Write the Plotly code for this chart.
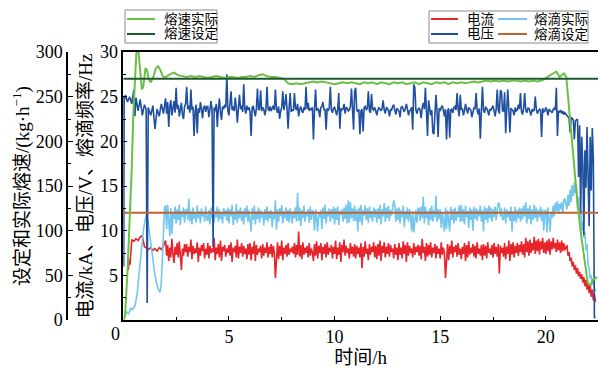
import numpy as np
import plotly.graph_objects as go

# ---------------- data ----------------
# 熔速实际 (kg/h), outer axis
melt_t_start = [0.0, 0.08, 0.2, 0.32, 0.4, 0.47, 0.55, 0.62, 0.72, 0.8, 0.88, 0.95, 1.05, 1.12,
                1.2, 1.3, 1.42, 1.55, 1.65, 1.75, 1.85, 1.95, 2.05]
melt_v_start = [0, 4, 55, 115, 170, 228, 275, 300, 300, 282, 258, 262, 282, 280,
                270, 266, 272, 282, 284, 280, 274, 271, 273]
# t = 2.2 ... 19.8 (step 0.2)
melt_v_mid = [275, 277, 274, 273, 272, 273, 272, 273, 272, 271,
              272, 273, 272, 271, 272, 272, 271, 272, 272, 273,
              272, 274, 275, 273, 272, 272, 271, 270, 265, 264,
              265, 264, 265, 266, 267, 266, 267, 266, 265, 264,
              265, 266, 265, 266, 265, 264, 266, 265, 266, 264,
              266, 265, 264, 266, 265, 266, 264, 265, 266, 264,
              266, 265, 264, 266, 265, 266, 264, 266, 265, 266,
              265, 266, 267, 266, 267, 268, 267, 268, 267, 268,
              267, 268, 268, 267, 268, 267, 268, 267, 268]
melt_t_end = [19.9, 20.2, 20.5, 20.65, 20.86, 20.97, 21.13, 21.36, 21.5, 21.68, 21.85, 21.99,
              22.12, 22.23, 22.43]
melt_v_end = [269, 274, 278, 272, 276, 272, 228, 164, 130, 93, 62, 41, 39, 45, 48]

# 熔速设定
melt_set_t = [0.0, 22.47]
melt_set_v = [270, 270]

# 电压 (V)
volt_t_start = [0.0, 0.02, 0.04, 0.1, 0.2, 0.3, 0.4, 0.5, 0.55, 0.6, 0.7, 0.8, 0.9, 1.0, 1.08,
                1.13, 1.18, 1.3, 1.4, 1.5, 1.6, 1.7, 1.8, 1.9]
volt_v_start = [25.0, 6.0, 24.6, 25.2, 24.4, 25.0, 24.2, 25.8, 22.8, 24.9, 23.4, 24.7, 22.9, 24.1,
                23.6, 1.9, 23.8, 22.9, 24.0, 21.4, 23.6, 22.8, 24.2, 23.1]
# t = 2.00 ... 20.80 (step 0.05), one row per hour
volt_v_mid = [
    24.8, 23.1, 24.4, 21.6, 23.9, 24.6, 22.9, 23.8, 24.5, 23.2, 26.0, 23.6, 24.1, 22.8, 23.7, 24.3, 23.0, 22.5, 23.9, 24.2,
    26.1, 23.6, 24.0, 23.2, 25.8, 23.5, 23.9, 20.6, 23.4, 24.1, 20.9, 23.7, 23.2, 24.4, 23.6, 22.6, 23.8, 24.0, 23.3, 23.9,
    23.9, 22.7, 23.5, 24.5, 23.6, 8.2, 23.8, 23.4, 24.2, 21.6, 23.7, 24.8, 23.2, 22.4, 23.9, 23.6, 24.1, 23.8, 27.5, 23.4,
    22.9, 24.0, 25.6, 23.5, 23.9, 23.4, 24.9, 23.7, 22.1, 23.8, 25.2, 23.6, 24.0, 23.3, 26.4, 23.7, 23.1, 24.0, 23.5, 23.8,
    23.3, 20.6, 23.8, 23.9, 23.4, 22.8, 23.7, 25.9, 23.5, 23.6, 25.7, 23.4, 23.8, 23.6, 22.9, 23.5, 26.1, 23.7, 23.4, 23.9,
    23.4, 23.8, 24.0, 23.5, 25.8, 23.6, 23.2, 23.9, 22.5, 23.4, 23.8, 25.6, 23.5, 24.2, 25.3, 23.6, 21.4, 23.8, 25.4, 23.3,
    23.6, 23.4, 25.4, 23.7, 23.5, 24.2, 22.8, 23.6, 23.9, 23.4, 23.2, 23.8, 23.5, 26.1, 23.6, 24.3, 23.4, 23.7, 23.5, 23.8,
    20.2, 23.6, 25.8, 23.4, 23.7, 23.5, 22.7, 23.8, 23.9, 24.4, 23.5, 23.6, 21.3, 23.7, 23.4, 23.8, 26.1, 23.5, 23.2, 23.7,
    23.8, 23.4, 22.9, 23.6, 25.4, 21.4, 23.7, 23.5, 23.6, 24.2, 23.1, 23.8, 23.7, 23.4, 23.5, 23.9, 25.9, 23.6, 21.3, 25.6,
    26.0, 23.5, 23.3, 23.6, 20.8, 23.4, 23.6, 21.1, 23.8, 23.9, 23.5, 23.7, 25.6, 23.4, 23.2, 25.3, 23.6, 23.5, 23.8, 23.4,
    22.9, 23.5, 23.8, 23.6, 23.4, 23.7, 24.6, 23.5, 23.1, 23.8, 23.7, 23.4, 22.8, 23.6, 23.5, 23.9, 24.1, 23.5, 23.0, 23.7,
    23.6, 23.4, 22.7, 23.8, 23.9, 23.5, 23.3, 23.7, 24.2, 23.6, 22.9, 23.4, 23.5, 23.8, 21.3, 26.4, 26.0, 23.5, 23.1, 23.6,
    23.7, 23.5, 22.6, 23.8, 24.3, 23.6, 26.0, 23.4, 20.6, 24.6, 23.7, 22.9, 23.5, 21.0, 20.8, 23.6, 25.2, 23.4, 20.5, 23.7,
    23.4, 23.8, 24.0, 23.5, 22.8, 23.6, 20.2, 23.4, 23.7, 20.4, 23.5, 23.6, 23.2, 23.8, 23.9, 23.5, 25.4, 23.6, 22.8, 25.2,
    23.5, 23.7, 22.9, 23.4, 24.2, 23.6, 23.1, 23.8, 23.6, 23.5, 22.7, 23.4, 23.8, 23.6, 25.4, 23.5, 23.0, 23.7, 20.3, 23.4,
    26.1, 23.5, 23.2, 23.8, 23.7, 23.4, 22.9, 23.6, 23.5, 23.7, 24.0, 23.4, 22.8, 23.6, 25.8, 23.5, 23.1, 25.7, 25.6, 23.4,
    23.4, 25.5, 20.9, 23.6, 25.8, 23.5, 21.0, 23.7, 23.6, 23.4, 22.9, 23.8, 23.4, 23.5, 24.1, 23.6, 25.4, 23.3, 23.0, 23.7,
    25.4, 23.5, 23.2, 23.7, 23.7, 23.4, 22.9, 23.6, 23.4, 23.5, 25.0, 23.6, 23.1, 23.4, 23.6, 23.5, 20.5, 23.7, 23.3, 23.4,
    23.8, 23.5, 22.9, 23.6, 23.5, 23.4, 23.2, 23.6, 23.7, 23.5, 26.0, 20.6, 23.4, 23.3, 23.5, 23.1, 23.4]
volt_t_end = [20.85, 20.9, 21.0, 21.1, 21.15, 21.2, 21.3, 21.35, 21.4, 21.5, 21.55, 21.6, 21.65,
              21.7, 21.75, 21.8, 21.85, 21.9, 21.95, 22.0, 22.05, 22.1, 22.15, 22.2, 22.25, 22.3,
              22.35]
volt_v_end = [23.0, 23.2, 22.9, 22.6, 21.0, 22.7, 22.4, 20.2, 22.3, 22.5, 16.0, 21.8, 12.0,
              20.5, 17.5, 9.5, 19.0, 14.8, 21.6, 15.5, 10.5, 20.5, 14.5, 21.5, 18.0, 0.3, 0.2]

# 电流 (kA)
curr_t_start = [0.24, 0.28, 0.32, 0.36, 0.4, 0.5, 0.6, 0.7, 0.8, 0.87, 0.93, 1.0, 1.1, 1.2,
                1.3, 1.4, 1.5, 1.6, 1.7, 1.8, 1.9]
curr_v_start = [5.6, 6.8, 6.2, 8.2, 9.0, 8.8, 9.1, 8.9, 9.3, 9.4, 9.1, 8.2, 8.0, 7.9,
                8.1, 7.8, 8.0, 7.7, 8.1, 7.9, 8.3]
curr_v_mid = [
    8.9, 7.2, 8.4, 6.6, 8.1, 7.0, 9.1, 7.4, 6.4, 8.2, 7.3, 8.6, 7.0, 8.8, 7.5, 5.6, 8.0, 7.2, 8.5, 7.6,
    8.5, 7.1, 8.2, 7.6, 9.0, 6.8, 8.3, 7.4, 8.0, 7.5, 8.7, 6.5, 8.1, 7.2, 8.4, 7.7, 8.6, 6.9, 8.0, 7.3,
    8.6, 6.9, 8.3, 7.5, 8.0, 7.6, 9.2, 6.7, 8.1, 7.4, 8.5, 7.0, 8.9, 6.6, 8.2, 7.7, 8.4, 7.1, 8.0, 7.5,
    8.4, 7.2, 8.7, 6.5, 8.1, 7.6, 8.3, 7.0, 9.0, 6.9, 8.2, 7.5, 8.6, 7.1, 8.3, 7.4, 8.0, 6.8, 8.5, 7.3,
    8.6, 6.7, 8.2, 7.4, 8.8, 6.6, 8.4, 7.3, 8.0, 7.6, 8.3, 6.9, 8.5, 7.2, 8.1, 7.5, 8.7, 7.0, 8.2, 7.4,
    8.5, 7.0, 8.3, 7.5, 4.7, 7.6, 8.7, 6.8, 8.3, 7.2, 8.9, 6.7, 8.1, 7.4, 8.4, 7.1, 8.6, 7.3, 8.0, 7.6,
    8.2, 7.4, 8.6, 7.0, 8.4, 7.3, 9.9, 7.1, 8.4, 6.8, 8.7, 7.3, 8.1, 7.5, 8.3, 7.0, 8.6, 7.2, 8.0, 7.6,
    6.6, 8.5, 7.2, 8.8, 6.9, 8.3, 7.5, 8.6, 6.7, 8.2, 7.4, 8.5, 7.0, 8.7, 7.3, 8.1, 7.6, 8.4, 6.9, 8.2,
    7.4, 8.9, 6.8, 8.1, 7.3, 8.7, 6.5, 8.4, 7.6, 9.0, 7.2, 8.3, 7.5, 8.0, 6.9, 8.6, 7.4, 8.2, 7.1, 8.5,
    6.9, 8.3, 7.4, 8.1, 7.0, 8.6, 5.8, 8.2, 7.1, 8.8, 7.4, 8.0, 6.7, 8.5, 7.3, 8.2, 7.6, 8.7, 7.0, 8.3,
    6.8, 8.5, 7.2, 8.9, 6.6, 8.3, 7.5, 8.7, 7.0, 8.2, 7.4, 8.6, 7.1, 8.4, 7.6, 8.0, 6.9, 8.5, 7.3, 8.1,
    6.7, 8.6, 7.3, 8.1, 6.9, 8.8, 7.4, 8.4, 6.5, 8.7, 7.2, 8.3, 7.5, 8.0, 7.0, 8.6, 7.3, 8.2, 7.6, 8.4,
    7.2, 8.3, 6.8, 9.1, 7.5, 8.2, 6.6, 8.6, 7.1, 8.4, 7.3, 8.7, 7.0, 8.1, 7.5, 8.5, 6.9, 8.3, 7.4, 8.0,
    6.9, 8.7, 7.3, 8.1, 7.5, 4.7, 7.6, 8.5, 6.7, 8.3, 7.4, 8.9, 7.0, 8.2, 7.6, 8.4, 7.1, 8.6, 7.3, 8.0,
    6.8, 8.2, 7.4, 8.6, 6.6, 8.4, 7.0, 8.8, 7.3, 8.1, 7.5, 8.5, 7.1, 8.3, 6.9, 8.7, 7.4, 8.0, 7.2, 8.4,
    6.7, 8.5, 7.2, 8.3, 6.9, 8.7, 7.5, 8.0, 7.3, 8.4, 7.0, 8.6, 7.4, 8.2, 7.1, 8.5, 5.2, 8.3, 7.5, 8.1,
    7.1, 8.6, 6.8, 8.2, 7.4, 8.9, 6.6, 8.5, 7.3, 8.7, 7.0, 8.3, 7.5, 8.6, 7.2, 8.4, 7.6, 8.8, 7.3, 8.5,
    7.0, 9.2, 7.6, 8.8, 7.2, 9.0, 7.5, 8.6, 7.8, 9.3, 7.4, 8.9, 7.7, 9.1, 7.3, 8.8, 7.9, 9.2, 7.5, 8.7,
    7.4, 8.9, 7.7, 9.1, 7.3, 8.8, 7.9, 9.2, 8.0, 8.6, 7.6, 9.0, 7.8, 8.7, 7.5, 8.9, 7.7]
curr_t_end = [20.85, 20.9, 21.0, 21.05, 21.1, 21.15, 21.2, 21.25, 21.3, 21.35, 21.4, 21.45, 21.5,
              21.55, 21.6, 21.65, 21.7, 21.75, 21.8, 21.85, 21.9, 21.95, 22.0, 22.05, 22.1, 22.15,
              22.2, 22.25, 22.3, 22.35]
curr_v_end = [8.6, 7.8, 8.4, 7.2, 7.6, 6.6, 7.0, 6.0, 6.5, 5.6, 6.1, 5.2, 5.8,
              4.9, 5.4, 4.6, 5.1, 4.2, 4.8, 3.8, 4.5, 3.4, 4.2, 3.0, 3.9, 2.6,
              3.4, 2.2, 2.9, 2.0]

# 熔滴实际 (Hz)
drop_t_start = [0.08, 0.15, 0.25, 0.35, 0.45, 0.55, 0.65, 0.72, 0.8, 0.87, 0.95, 1.03, 1.1, 1.17,
                1.25, 1.33, 1.42, 1.5, 1.58, 1.66, 1.74, 1.8, 1.85, 1.9, 1.95]
drop_v_start = [0.4, 0.9, 0.7, 1.3, 1.2, 1.6, 2.8, 4.5, 6.5, 8.0, 10.0, 11.2, 11.8, 11.0,
                9.4, 7.8, 6.3, 5.0, 4.1, 3.4, 3.1, 4.2, 6.8, 9.4, 12.6]
drop_v_mid = [
    12.8, 10.2, 12.9, 11.0, 9.4, 12.5, 9.6, 12.1, 11.3, 12.7, 10.8, 12.4, 11.2, 12.9, 10.6, 12.2, 11.5, 12.6, 10.9, 12.3,
    12.4, 11.2, 13.6, 11.0, 12.2, 10.7, 12.6, 11.3, 12.0, 10.9, 12.8, 11.4, 12.2, 10.8, 12.5, 11.6, 12.1, 11.0, 12.7, 11.3,
    11.1, 12.3, 10.7, 12.6, 11.4, 12.9, 10.9, 12.2, 11.5, 12.7, 11.0, 12.4, 11.3, 12.0, 10.8, 12.5, 11.6, 12.3, 11.1, 12.6,
    10.8, 12.4, 11.6, 12.9, 10.6, 12.1, 11.2, 13.0, 10.9, 12.3, 11.4, 12.6, 11.1, 12.2, 10.7, 12.5, 11.5, 12.8, 11.0, 12.3,
    11.4, 9.9, 12.5, 11.2, 12.8, 10.7, 12.2, 11.3, 12.6, 10.9, 12.3, 11.5, 12.0, 10.6, 12.4, 11.2, 12.7, 11.0, 12.2, 11.4,
    12.3, 10.4, 12.0, 11.3, 13.4, 10.1, 12.4, 11.0, 12.5, 11.6, 12.9, 10.8, 12.2, 11.4, 12.6, 11.1, 12.3, 10.9, 12.5, 11.5,
    10.8, 12.2, 11.4, 12.6, 11.0, 14.2, 11.1, 12.6, 10.5, 12.3, 11.4, 12.8, 11.0, 12.1, 11.6, 12.4, 10.9, 12.7, 11.2, 12.3,
    12.1, 10.0, 12.4, 11.3, 9.9, 12.0, 11.5, 12.3, 10.2, 12.6, 11.3, 12.9, 10.8, 12.2, 11.6, 12.5, 11.0, 12.4, 11.4, 12.7,
    10.7, 12.5, 11.2, 12.7, 10.6, 12.2, 11.8, 12.4, 11.0, 12.6, 11.3, 12.9, 10.8, 13.4, 10.9, 13.2, 11.4, 12.5, 11.1, 12.8,
    11.1, 12.4, 9.9, 12.6, 11.0, 12.9, 10.6, 12.3, 11.7, 12.8, 11.2, 12.5, 10.9, 12.7, 11.4, 12.2, 11.0, 12.6, 11.5, 12.4,
    10.9, 12.5, 11.3, 12.9, 10.7, 12.4, 11.6, 13.1, 11.0, 12.6, 11.4, 12.8, 11.1, 12.3, 11.7, 12.6, 13.4, 12.9, 11.0, 12.5,
    11.2, 12.6, 10.8, 12.3, 11.5, 12.8, 10.4, 12.2, 11.3, 12.6, 11.0, 12.4, 11.6, 9.9, 12.2, 9.8, 11.4, 12.3, 10.9, 12.5,
    12.5, 11.1, 12.7, 11.4, 13.8, 10.8, 12.7, 11.4, 12.2, 10.6, 12.5, 11.2, 12.8, 11.0, 12.3, 11.5, 13.9, 11.0, 12.4, 11.3,
    12.4, 10.3, 12.1, 11.2, 9.9, 12.6, 10.2, 12.3, 11.4, 9.9, 12.7, 11.2, 12.4, 10.8, 12.6, 11.1, 12.2, 11.5, 12.8, 11.0,
    12.9, 11.0, 12.4, 10.7, 12.8, 11.5, 12.2, 10.3, 12.6, 11.2, 12.4, 10.0, 12.7, 11.3, 12.5, 11.1, 12.3, 11.6, 12.8, 11.0,
    12.3, 9.9, 12.7, 11.2, 12.5, 10.9, 12.8, 11.4, 12.6, 11.0, 12.4, 11.5, 12.7, 11.2, 12.3, 13.1, 13.0, 11.6, 12.5, 11.2,
    11.3, 12.6, 10.8, 12.4, 11.5, 12.2, 11.1, 12.7, 9.9, 12.2, 11.1, 12.7, 10.9, 12.3, 11.4, 12.6, 11.0, 12.5, 11.3, 12.8,
    11.6, 13.2, 10.8, 12.5, 11.3, 12.8, 10.7, 12.4, 11.2, 12.9, 11.4, 12.6, 11.0, 12.3, 11.5, 12.7, 11.1, 12.4, 10.0, 12.2,
    12.3, 9.8, 12.6, 11.4, 9.9, 12.1, 11.4, 12.8, 11.6, 13.1, 12.2, 13.3, 11.9, 13.0, 12.4, 13.2, 12.0]
drop_t_end = [20.85, 20.9, 21.0, 21.05, 21.1, 21.15, 21.2, 21.25, 21.3, 21.35, 21.4, 21.45, 21.5,
              21.55, 21.6, 21.65, 21.7, 21.75, 21.8, 21.85, 21.9, 21.95, 22.0, 22.05, 22.1, 22.15,
              22.2, 22.25, 22.3, 22.35]
drop_v_end = [13.4, 13.6, 12.4, 14.0, 12.8, 14.6, 13.2, 15.1, 13.9, 15.4, 14.2, 15.0, 12.6,
              13.8, 11.2, 12.3, 10.0, 11.0, 9.2, 9.8, 7.8, 8.5, 6.2, 5.8, 4.6, 5.0,
              4.0, 4.4, 3.6, 3.2]

# 熔滴设定
drop_set_t = [0.0, 22.47]
drop_set_v = [12, 12]

x_ticks = [5, 10, 15, 20]
y_inner_ticks = [5, 10, 15, 20, 25, 30]
y_outer_ticks = [0, 50, 100, 150, 200, 250, 300]


def mid_grid(start, step, values):
    return list(np.round(start + step * np.arange(len(values)), 3))


melt_t = melt_t_start + mid_grid(2.2, 0.2, melt_v_mid) + melt_t_end
melt_v = melt_v_start + melt_v_mid + melt_v_end
volt_t = volt_t_start + mid_grid(2.0, 0.05, volt_v_mid) + volt_t_end
volt_v = volt_v_start + volt_v_mid + volt_v_end
curr_t = curr_t_start + mid_grid(2.0, 0.05, curr_v_mid) + curr_t_end
curr_v = curr_v_start + curr_v_mid + curr_v_end
drop_t = drop_t_start + mid_grid(2.0, 0.05, drop_v_mid) + drop_t_end
drop_v = drop_v_start + drop_v_mid + drop_v_end

# ---------------- style ----------------
C_GREEN = "#6cbf45"
C_DGREEN = "#1e5a30"
C_RED = "#e5252b"
C_LBLUE = "#72c6f0"
C_BLUE = "#1f4f9f"
C_ORANGE = "#bf6431"
FONT = "Liberation Serif, Noto Sans CJK SC, serif"

W, H = 598, 368
ML, MR, MT, MB = 67, 0, 52, 48
PW, PH = W - ML - MR, H - MT - MB
X0 = 123.3  # left edge of plotting area in px


def pxx(x):
    return (x - ML) / PW


def pxy(y):
    return (H - MB - y) / PH


fig = go.Figure()
fig.add_trace(go.Scatter(x=curr_t, y=curr_v, mode="lines", name="电流",
                         line=dict(color=C_RED, width=1.6), xaxis="x", yaxis="y"))
fig.add_trace(go.Scatter(x=drop_t, y=drop_v, mode="lines", name="熔滴实际",
                         line=dict(color=C_LBLUE, width=1.6), xaxis="x", yaxis="y"))
fig.add_trace(go.Scatter(x=volt_t, y=volt_v, mode="lines", name="电压",
                         line=dict(color=C_BLUE, width=1.6), xaxis="x", yaxis="y"))
fig.add_trace(go.Scatter(x=melt_t, y=melt_v, mode="lines", name="熔速实际",
                         line=dict(color=C_GREEN, width=2), xaxis="x", yaxis="y2"))
fig.add_trace(go.Scatter(x=drop_set_t, y=drop_set_v, mode="lines", name="熔滴设定",
                         line=dict(color=C_ORANGE, width=2), xaxis="x", yaxis="y"))
fig.add_trace(go.Scatter(x=melt_set_t, y=melt_set_v, mode="lines", name="熔速设定",
                         line=dict(color=C_DGREEN, width=2), xaxis="x", yaxis="y2"))

tickfont = dict(family=FONT, size=18, color="black")
titlefont = dict(family=FONT, size=19, color="black")

fig.update_layout(
    width=W, height=H,
    margin=dict(l=ML, r=MR, t=MT, b=MB, pad=0),
    paper_bgcolor="white", plot_bgcolor="white",
    showlegend=False,
    xaxis=dict(domain=[pxx(X0), 1], range=[0, 22.47], showline=True, linecolor="black",
               linewidth=1.5, mirror=True, ticks="inside", ticklen=4, tickwidth=1.3,
               tickcolor="black", tickvals=x_ticks,
               minor=dict(ticks="inside", ticklen=3, tickwidth=1.2, dtick=2.5, tick0=0,
                          tickcolor="black"),
               showgrid=False, zeroline=False, tickfont=tickfont,
               title=dict(text="时间/h", font=titlefont, standoff=0)),
    yaxis=dict(range=[0, 30], anchor="x", showline=True, linecolor="black", linewidth=1.5,
               ticks="inside", ticklen=4, tickwidth=1.3, tickcolor="black",
               tickvals=y_inner_ticks,
               minor=dict(ticks="inside", ticklen=3, tickwidth=1.2, dtick=2.5, tick0=0,
                          tickcolor="black"),
               showgrid=False, zeroline=False, tickfont=tickfont,
               title=dict(text="电流/kA、电压/V、熔滴频率/Hz", font=titlefont, standoff=2)),
    yaxis2=dict(range=[0, 300], overlaying="y", anchor="free", position=0, side="left",
                showline=True, linecolor="black", linewidth=1.5,
                ticks="inside", ticklen=5, tickwidth=1.3, tickcolor="black",
                tickvals=y_outer_ticks,
                minor=dict(ticks="inside", ticklen=3, tickwidth=1.2, dtick=25, tick0=0,
                           tickcolor="black"),
                showgrid=False, zeroline=False, tickfont=tickfont,
                title=dict(text="设定和实际熔速/(kg·h<sup>−1</sup>)", font=titlefont, standoff=0)),
)

# corner "0" label shared by both axes
annotations = [dict(x=pxx(115), y=pxy(334), xref="paper", yref="paper", text="0",
                    showarrow=False, xanchor="center", yanchor="middle", font=tickfont)]
shapes = []

# legend boxes (drawn in pixel-derived paper coords)
for (x0, x1, y0, y1) in [(125, 217, 10, 43), (429, 588, 11, 43)]:
    shapes.append(dict(type="rect", xref="paper", yref="paper",
                       x0=pxx(x0), x1=pxx(x1), y0=pxy(y0), y1=pxy(y1),
                       line=dict(color="#8a8a8a", width=1), fillcolor="white", layer="above"))

legend_items = [
    ("熔速实际", C_GREEN, 127, 155, 162, 19),
    ("熔速设定", C_DGREEN, 127, 155, 162, 34),
    ("电流", C_RED, 431, 458, 465, 19),
    ("电压", C_BLUE, 431, 458, 465, 34),
    ("熔滴实际", C_LBLUE, 498, 527, 532, 19),
    ("熔滴设定", C_ORANGE, 498, 527, 532, 34),
]
for name, col, lx0, lx1, tx, yy in legend_items:
    shapes.append(dict(type="line", xref="paper", yref="paper",
                       x0=pxx(lx0), x1=pxx(lx1), y0=pxy(yy), y1=pxy(yy),
                       line=dict(color=col, width=2), layer="above"))
    annotations.append(dict(x=pxx(tx), y=pxy(yy), xref="paper", yref="paper", text=name,
                            showarrow=False, xanchor="left", yanchor="middle",
                            font=dict(family=FONT, size=13.5, color="black")))

fig.update_layout(shapes=shapes, annotations=annotations)

fig.write_html("out.html")
